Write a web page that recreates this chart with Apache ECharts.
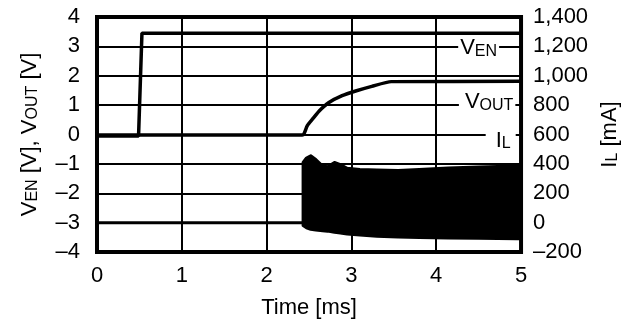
<!DOCTYPE html>
<html><head><meta charset="utf-8">
<script src="https://cdn.jsdelivr.net/npm/echarts@6/dist/echarts.min.js"></script>
<style>html,body{margin:0;padding:0;background:#fff}#c{width:629px;height:324px}</style>
</head><body><div id="c"></div>
<script>
// ---- data ----
const xTicks = [0, 1, 2, 3, 4, 5];                       // Time [ms]
const leftTicks = [-4, -3, -2, -1, 0, 1, 2, 3, 4];       // V
const rightTicks = [-200, 0, 200, 400, 600, 800, 1000, 1200, 1400]; // mA

const venTime  = [0, 0.49, 0.53, 5];
const venValue = [-0.05, -0.05, 3.45, 3.45];

const voutTime  = [0, 2.42, 2.44, 2.48, 2.54, 2.62, 2.73, 2.89, 3.05, 3.24, 3.47, 5];
const voutValue = [-0.02, -0.02, 0.02, 0.30, 0.52, 0.80, 1.08, 1.32, 1.48, 1.64, 1.80, 1.81];

const ilBaseTime  = [0, 2.43];
const ilBaseValue = [0, 0];

const ilTime   = [2.43, 2.47, 2.52, 2.58, 2.66, 2.72, 2.80, 2.87, 2.95, 3.10, 3.30, 3.55, 3.80, 4.14, 4.50, 4.95, 5.00];
const ilTop    = [410, 440, 455, 430, 385, 380, 410, 395, 370, 362, 358, 355, 362, 372, 378, 385, 385];
const ilBottom = [-20, -35, -45, -50, -55, -58, -66, -70, -78, -85, -92, -98, -102, -105, -107, -110, -110];

// ---- chart ----
const FONT = 'Liberation Sans, Arial, Helvetica, sans-serif';
const zip = (a, b) => a.map((v, i) => [v, b[i]]);
const fmt = v => (v < 0 ? '\u2013' : '') + String(Math.abs(v)).replace(/\B(?=(\d{3})+(?!\d))/g, ',');
const rich = {
  b: { fontSize: 22, fontFamily: FONT, color: '#000', verticalAlign: 'bottom', textBorderWidth: 0 },
  s: { fontSize: 16, fontFamily: FONT, color: '#000', verticalAlign: 'bottom', textBorderWidth: 0 }
};

const chart = echarts.init(document.getElementById('c'), null, { renderer: 'canvas' });
const option = {
  animation: false,
  backgroundColor: '#fff',
  grid: { left: 97, right: 105, top: 17, bottom: 72, show: true, borderColor: '#000', borderWidth: 4, backgroundColor: 'transparent' },
  xAxis: {
    type: 'value', min: xTicks[0], max: xTicks[xTicks.length - 1], interval: xTicks[1] - xTicks[0],
    axisLine: { show: false }, axisTick: { show: false },
    splitLine: { show: true, lineStyle: { color: '#000', width: 2 } },
    axisLabel: { color: '#000', fontSize: 22, fontFamily: FONT, margin: 13, formatter: fmt },
    name: 'Time [ms]', nameLocation: 'middle', nameGap: 45,
    nameTextStyle: { color: '#000', fontSize: 22, fontFamily: FONT }
  },
  yAxis: [
    {
      type: 'value', position: 'left', min: leftTicks[0], max: leftTicks[leftTicks.length - 1], interval: leftTicks[1] - leftTicks[0],
      axisLine: { show: false }, axisTick: { show: false },
      splitLine: { show: true, lineStyle: { color: '#000', width: 2 } },
      axisLabel: { color: '#000', fontSize: 22, fontFamily: FONT, margin: 17, formatter: fmt },
      name: '{b|V}{s|EN}{b| [V], V}{s|OUT}{b| [V]}', nameLocation: 'middle', nameRotate: 90, nameGap: 56,
      nameTextStyle: { color: '#000', fontSize: 22, fontFamily: FONT, rich: rich }
    },
    {
      type: 'value', position: 'right', min: rightTicks[0], max: rightTicks[rightTicks.length - 1], interval: rightTicks[1] - rightTicks[0],
      axisLine: { show: false }, axisTick: { show: false }, splitLine: { show: false },
      axisLabel: { color: '#000', fontSize: 22, fontFamily: FONT, margin: 12, formatter: fmt },
      name: '{b|I}{s|L}{b| [mA]}', nameLocation: 'middle', nameRotate: 90, nameGap: 61,
      nameTextStyle: { color: '#000', fontSize: 22, fontFamily: FONT, rich: rich }
    }
  ],
  series: [
    {
      name: 'IL base', type: 'line', yAxisIndex: 1, data: zip(ilBaseTime, ilBaseValue),
      symbol: 'none', lineStyle: { color: '#000', width: 3 }, z: 3
    },
    {
      name: 'IL band', type: 'custom', yAxisIndex: 1, z: 3,
      data: zip(ilTime, ilTop),
      renderItem: function (params, api) {
        if (params.dataIndex !== 0) return null;
        const pts = [];
        for (let i = 0; i < ilTime.length; i++) pts.push(api.coord([ilTime[i], ilTop[i]]));
        for (let i = ilTime.length - 1; i >= 0; i--) pts.push(api.coord([ilTime[i], ilBottom[i]]));
        return {
          type: 'polygon', shape: { points: pts },
          style: { fill: '#000', stroke: '#000', lineWidth: 3, lineJoin: 'round' }
        };
      }
    },
    {
      name: 'VOUT', type: 'line', yAxisIndex: 0, data: zip(voutTime, voutValue), symbol: 'none',
      smooth: 0.2, lineStyle: { color: '#000', width: 3.5 }, z: 4
    },
    {
      name: 'VEN', type: 'line', yAxisIndex: 0, data: zip(venTime, venValue), symbol: 'none',
      lineStyle: { color: '#000', width: 3.5 }, z: 4
    },
    {
      name: 'labels', type: 'scatter', yAxisIndex: 0, symbolSize: 1, itemStyle: { color: '#fff' }, z: 6,
      data: [
        { value: [4.50, 2.93], text: '{b|V}{s|EN}', pad: [0, 2, 0, 2] },
        { value: [4.60, 1.10], text: '{b|V}{s|OUT}', pad: [0, 2, 0, 6] },
        { value: [4.76, -0.22], text: '{b|I}{s|L}', pad: [0, 5, 0, 10] }
      ].map(d => ({ value: d.value, label: { formatter: d.text, padding: d.pad } })),
      label: {
        show: true, position: 'inside', backgroundColor: '#fff', color: '#000', opacity: 1,
        textBorderWidth: 0, textBorderColor: 'transparent',
        fontSize: 22, fontFamily: FONT, rich: rich
      },
      emphasis: { disabled: true }
    }
  ]
};
chart.setOption(option);
</script>
</body></html>
